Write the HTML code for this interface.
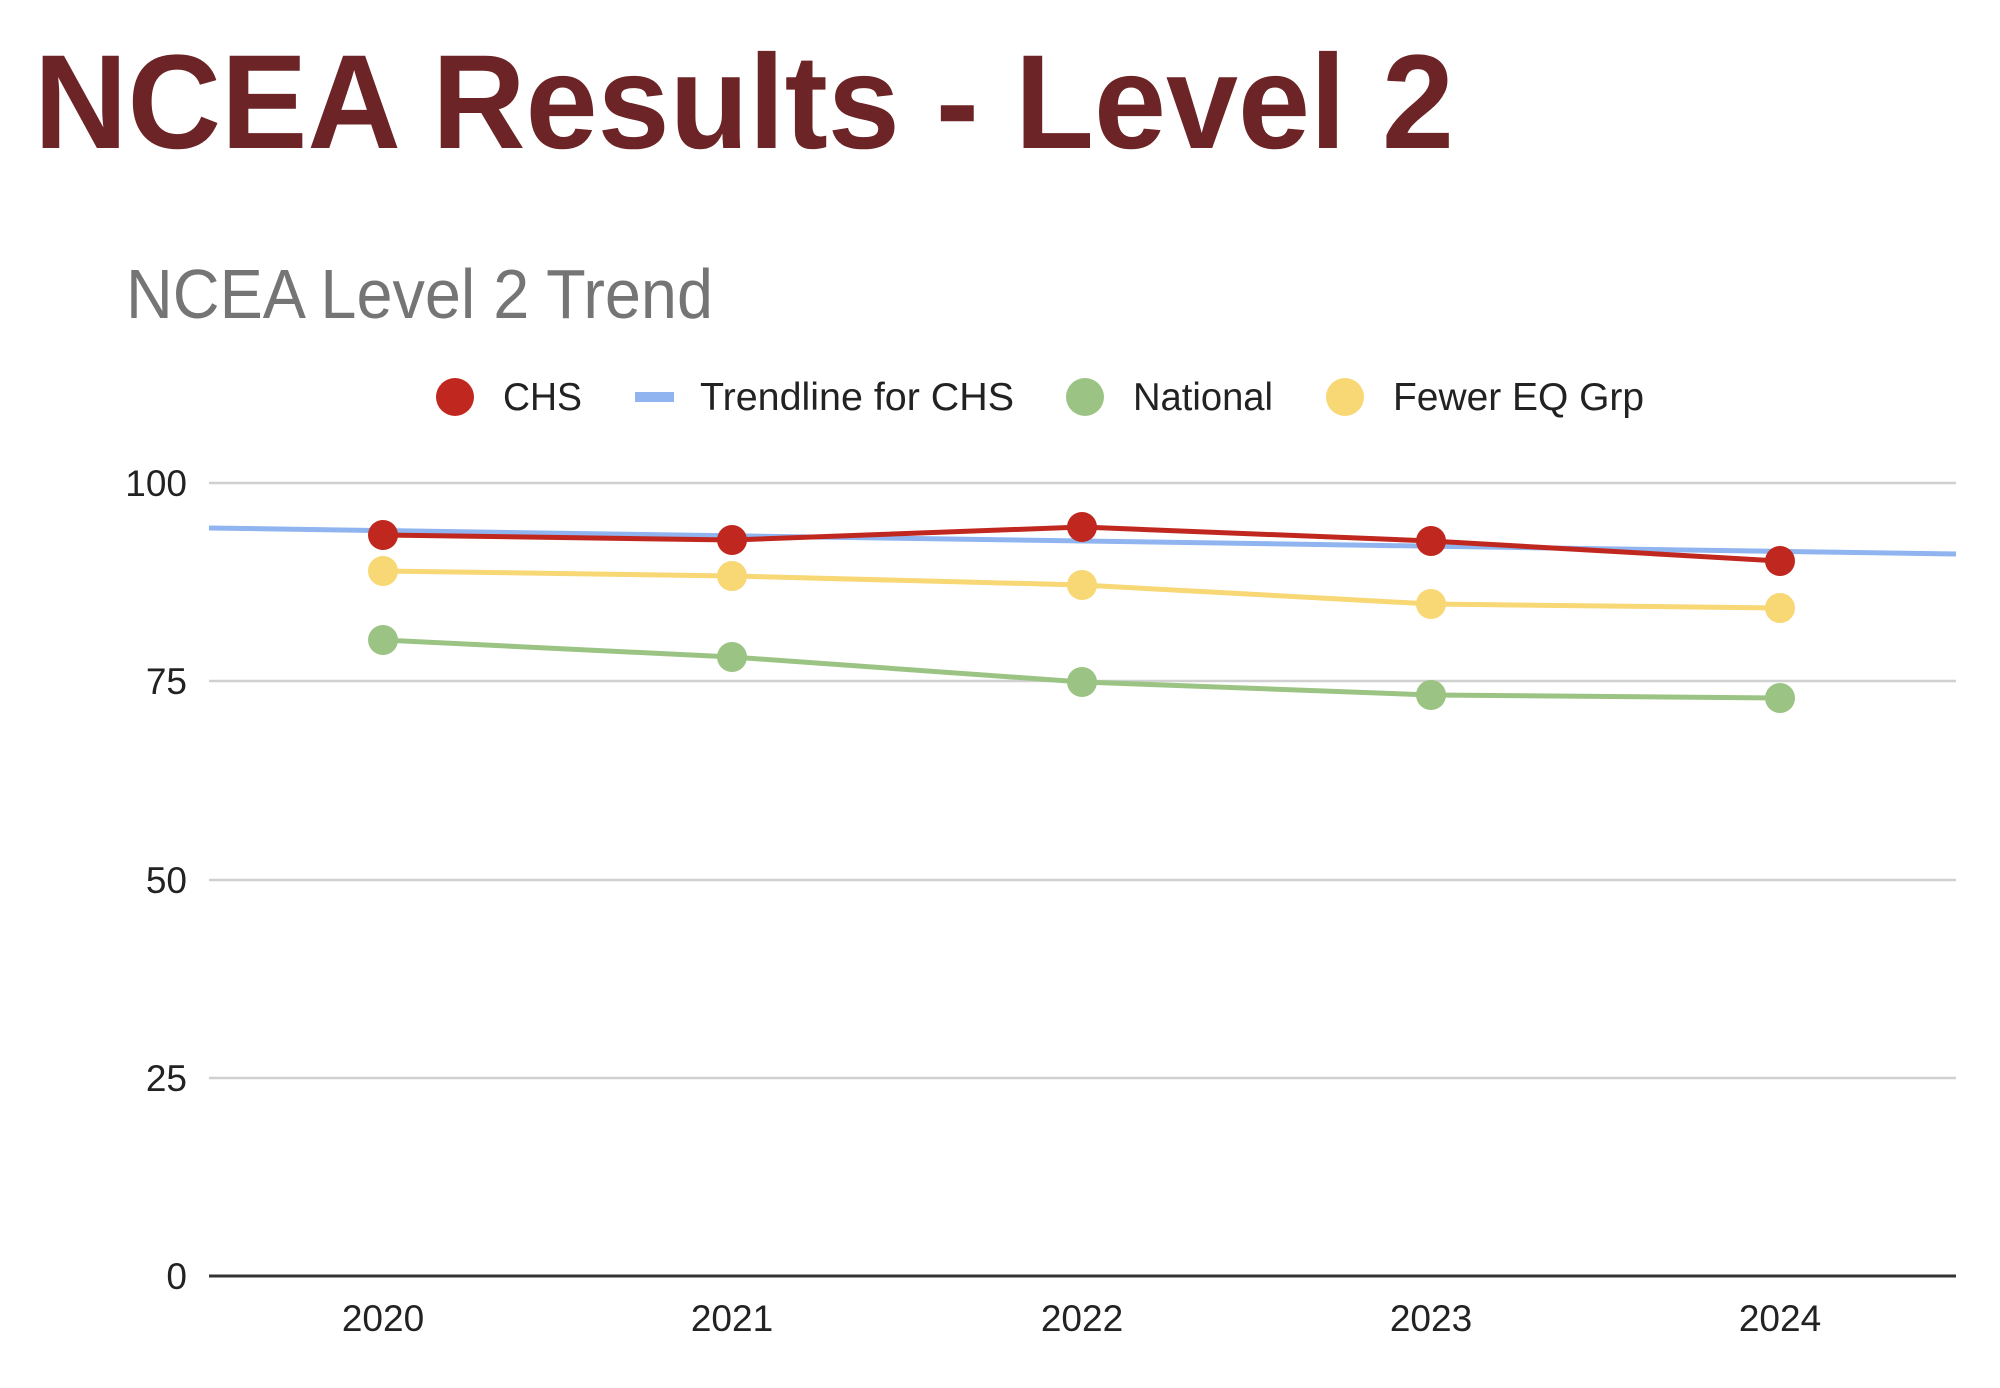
<!DOCTYPE html>
<html><head><meta charset="utf-8"><style>
html,body{margin:0;padding:0;background:#fff;}
svg{display:block;}
</style></head><body>
<svg width="2000" height="1388" viewBox="0 0 2000 1388" xmlns="http://www.w3.org/2000/svg" font-family="Liberation Sans, sans-serif">
<rect width="2000" height="1388" fill="#fff"/>
<text x="34" y="148" font-size="134" font-weight="bold" fill="#6d2426" textLength="1420" lengthAdjust="spacingAndGlyphs">NCEA Results - Level 2</text>
<text x="126" y="318" font-size="70" fill="#757575" textLength="587" lengthAdjust="spacingAndGlyphs">NCEA Level 2 Trend</text>
<g font-size="39" fill="#222">
<circle cx="455" cy="397" r="19" fill="#c0281f"/>
<text x="503" y="410" textLength="79" lengthAdjust="spacingAndGlyphs">CHS</text>
<rect x="635" y="392" width="39" height="10" fill="#8fb4f0"/>
<text x="700" y="410" textLength="314" lengthAdjust="spacingAndGlyphs">Trendline for CHS</text>
<circle cx="1085" cy="397" r="19" fill="#9bc484"/>
<text x="1133" y="410" textLength="140" lengthAdjust="spacingAndGlyphs">National</text>
<circle cx="1345" cy="397" r="19" fill="#f8d775"/>
<text x="1393" y="410" textLength="251" lengthAdjust="spacingAndGlyphs">Fewer EQ Grp</text>
</g>
<g stroke="#d0d0d0" stroke-width="2.5">
<line x1="209" y1="483" x2="1956" y2="483"/>
<line x1="209" y1="681" x2="1956" y2="681"/>
<line x1="209" y1="880" x2="1956" y2="880"/>
<line x1="209" y1="1078" x2="1956" y2="1078"/>
</g>
<line x1="209" y1="1276" x2="1956" y2="1276" stroke="#333" stroke-width="3"/>
<g font-size="37" fill="#222" text-anchor="end">
<text x="187" y="496">100</text>
<text x="187" y="694">75</text>
<text x="187" y="893">50</text>
<text x="187" y="1091">25</text>
<text x="187" y="1289">0</text>
</g>
<g font-size="37" fill="#222" text-anchor="middle">
<text x="383" y="1331">2020</text>
<text x="732" y="1331">2021</text>
<text x="1082" y="1331">2022</text>
<text x="1431" y="1331">2023</text>
<text x="1780" y="1331">2024</text>
</g>
<line x1="209" y1="528" x2="1956" y2="554" stroke="#8fb4f0" stroke-width="5"/>
<polyline fill="none" stroke="#9bc484" stroke-width="5" points="383,640 732,657 1082,682 1431,695 1780,698"/>
<g fill="#9bc484"><circle cx="383" cy="640" r="15"/><circle cx="732" cy="657" r="15"/><circle cx="1082" cy="682" r="15"/><circle cx="1431" cy="695" r="15"/><circle cx="1780" cy="698" r="15"/></g>
<polyline fill="none" stroke="#f8d775" stroke-width="5" points="383,571 732,576 1082,585 1431,604 1780,608"/>
<g fill="#f8d775"><circle cx="383" cy="571" r="15"/><circle cx="732" cy="576" r="15"/><circle cx="1082" cy="585" r="15"/><circle cx="1431" cy="604" r="15"/><circle cx="1780" cy="608" r="15"/></g>
<polyline fill="none" stroke="#c0281f" stroke-width="5" points="383,535 732,540 1082,527 1431,541 1780,561"/>
<g fill="#c0281f"><circle cx="383" cy="535" r="15"/><circle cx="732" cy="540" r="15"/><circle cx="1082" cy="527" r="15"/><circle cx="1431" cy="541" r="15"/><circle cx="1780" cy="561" r="15"/></g>
</svg>
</body></html>
